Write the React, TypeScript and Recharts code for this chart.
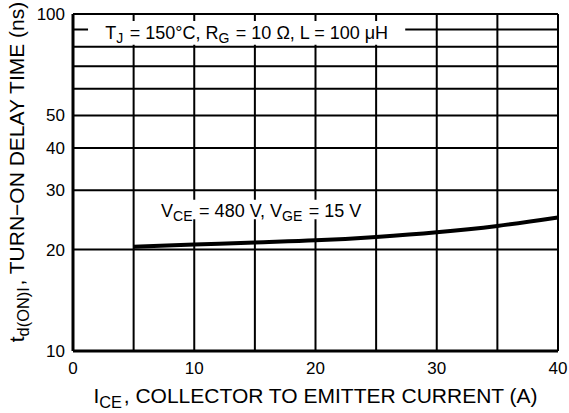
import { LineChart, Line, XAxis, YAxis, CartesianGrid, ReferenceArea, Label } from "recharts";

const current = [5, 10, 15, 20, 25, 30, 35, 40];
const delayTime = [20.4, 20.7, 21.0, 21.3, 21.8, 22.5, 23.5, 24.9];
const xTicks = [0, 5, 10, 15, 20, 25, 30, 35, 40];
const xLabeled = [0, 10, 20, 30, 40];
const yTicks = [10, 20, 30, 40, 50, 60, 70, 80, 90, 100];
const yLabeled = [10, 20, 30, 40, 50, 100];

const data = current.map((c, i) => ({ ice: c, td: delayTime[i] }));

const FONT = "'Liberation Sans', Arial, Helvetica, sans-serif";

function Sub({ text, dy = 4 }: { text: string; dy?: number }) {
  return (
    <>
      <tspan dy={dy} fontSize="0.78em">{text}</tspan>
      <tspan dy={-dy}>{"\u200a"}</tspan>
    </>
  );
}

function ConditionsLabel(props: any) {
  const { viewBox } = props;
  const cx = viewBox.x + viewBox.width / 2;
  const cy = viewBox.y + viewBox.height / 2;
  return (
    <text x={cx} y={cy} dy={6} textAnchor="middle" fontFamily={FONT} fontSize={18} fill="#000">
      T<Sub text="J" /> = 150°C, R<Sub text="G" /> = 10 Ω, L = 100 μH
    </text>
  );
}

function BiasLabel(props: any) {
  const { viewBox } = props;
  const cx = viewBox.x + viewBox.width / 2;
  const cy = viewBox.y + viewBox.height / 2;
  return (
    <text x={cx} y={cy} dy={7} textAnchor="middle" fontFamily={FONT} fontSize={18} fill="#000">
      V<Sub text="CE" /> = 480 V, V<Sub text="GE" /> = 15 V
    </text>
  );
}

function XTitle(props: any) {
  const { viewBox } = props;
  const cx = viewBox.x + viewBox.width / 2;
  return (
    <text x={cx} y={403} textAnchor="middle" fontFamily={FONT} fontSize={21} fill="#000">
      I<Sub text="CE" dy={5} />, COLLECTOR TO EMITTER CURRENT (A)
    </text>
  );
}

function YTitle() {
  return (
    <text
      x={0}
      y={0}
      transform="translate(24, 172) rotate(-90)"
      textAnchor="middle"
      fontFamily={FONT}
      fontSize={21}
      fill="#000"
    >
      t<Sub text="d(ON)I" dy={5} />, TURN−ON DELAY TIME (ns)
    </text>
  );
}

export default function App() {
  return (
    <div style={{ position: "absolute", left: 0, top: 0, background: "#fff" }}>
      <LineChart width={569} height={413} data={data} margin={{ top: 14, right: 11, bottom: 0, left: 33 }}>
        <CartesianGrid stroke="#000" strokeWidth={2} />
        <XAxis
          dataKey="ice"
          type="number"
          domain={[0, 40]}
          ticks={xTicks}
          interval={0}
          tickFormatter={(v: number) => (xLabeled.includes(v) ? String(v) : "")}
          tick={{ fill: "#000", fontSize: 17, fontFamily: FONT }}
          tickLine={false}
          tickMargin={5}
          axisLine={{ stroke: "#000", strokeWidth: 3 }}
          height={62}
        >
          <Label content={<XTitle />} />
        </XAxis>
        <YAxis
          scale="log"
          type="number"
          domain={[10, 100]}
          ticks={yTicks}
          interval={0}
          allowDataOverflow
          tickFormatter={(v: number) => (yLabeled.includes(v) ? String(v) : "")}
          tick={{ fill: "#000", fontSize: 17, fontFamily: FONT }}
          tickLine={false}
          tickMargin={2}
          axisLine={{ stroke: "#000", strokeWidth: 3 }}
          width={40}
        >
          <Label content={<YTitle />} />
        </YAxis>
        <ReferenceArea
          x1={1.24}
          x2={27.4}
          y1={81}
          y2={95.3}
          fill="#fff"
          fillOpacity={1}
          stroke="none"
          label={<ConditionsLabel />}
        />
        <ReferenceArea
          x1={6.35}
          x2={24.7}
          y1={24.6}
          y2={28.1}
          fill="#fff"
          fillOpacity={1}
          stroke="none"
          label={<BiasLabel />}
        />
        <Line
          type="monotone"
          dataKey="td"
          stroke="#000"
          strokeWidth={4}
          dot={false}
          isAnimationActive={false}
        />
      </LineChart>
    </div>
  );
}
